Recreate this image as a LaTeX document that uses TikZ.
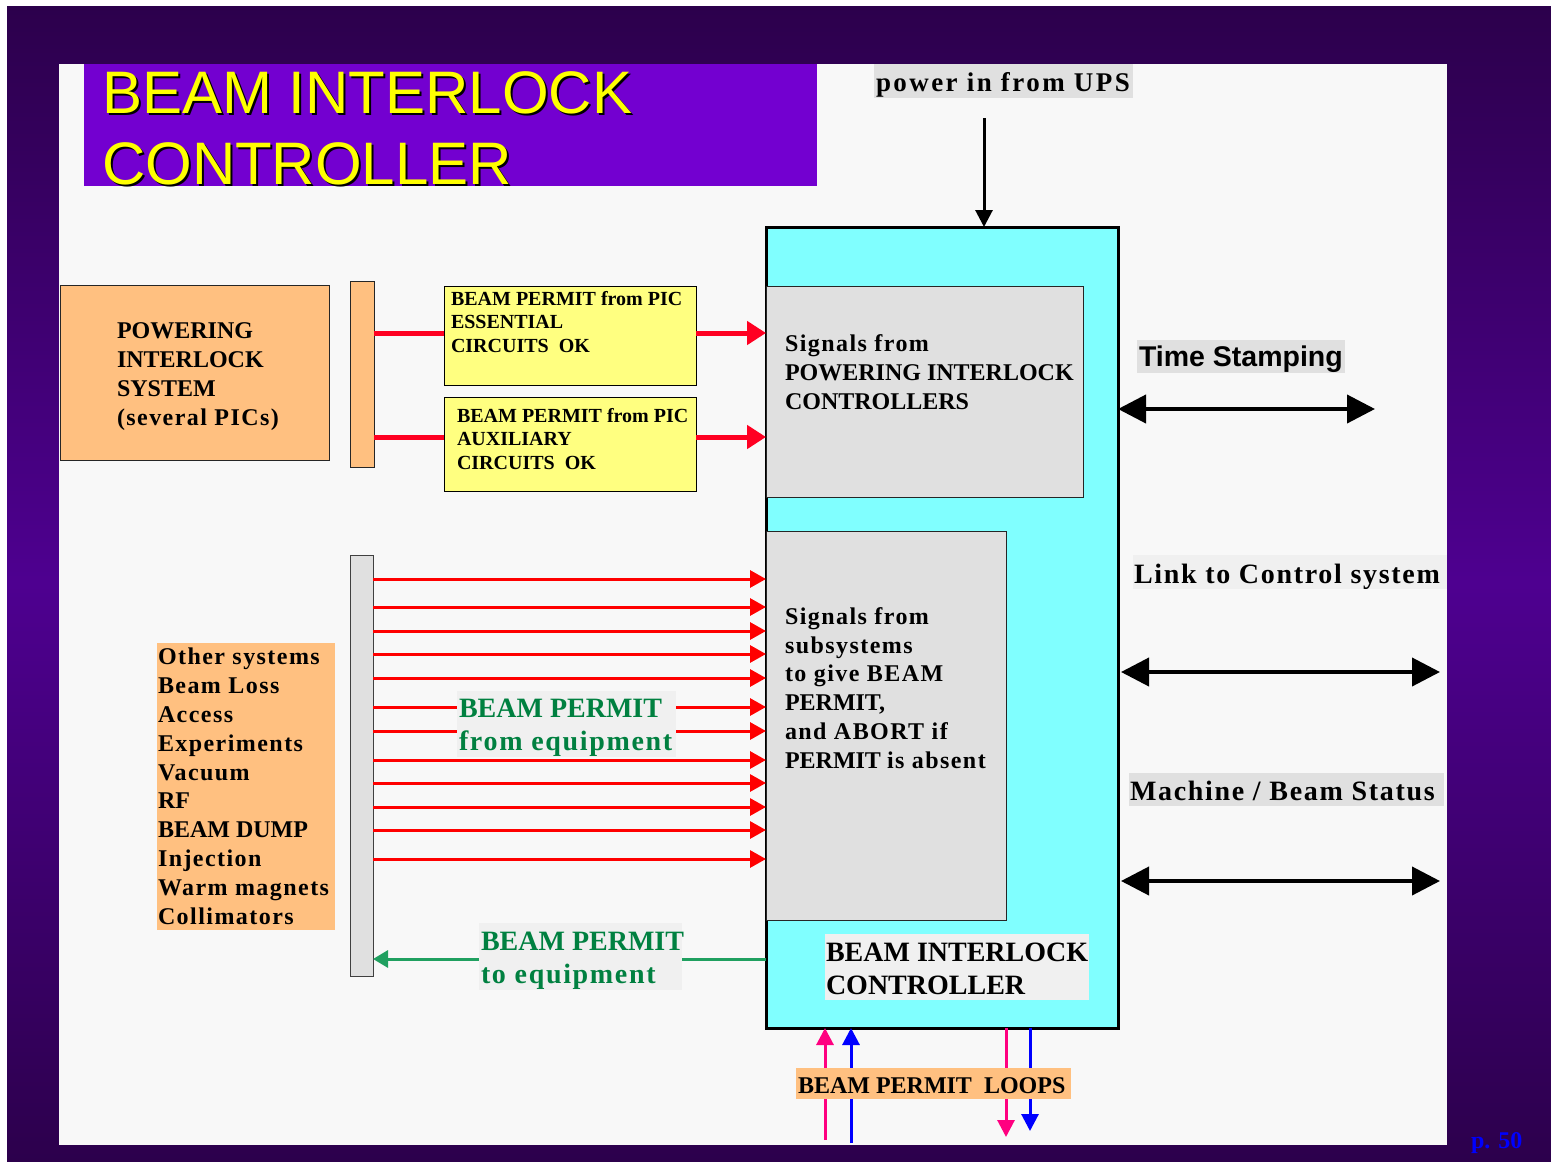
\documentclass[tikz,border=0pt]{standalone}
\usepackage{fontspec}
\setmainfont{Liberation Serif}
\newfontfamily\arialfont{Liberation Sans}
\usetikzlibrary{arrows.meta}
\definecolor{bgdark}{HTML}{2C004C}
\definecolor{bgmid}{HTML}{4E0090}
\definecolor{pane}{HTML}{F8F8F8}
\definecolor{titlebg}{HTML}{7300D0}
\definecolor{titletext}{HTML}{FFFF00}
\definecolor{cyanbox}{HTML}{80FFFF}
\definecolor{grayfill}{HTML}{E0E0E0}
\definecolor{lightfill}{HTML}{F0F0F0}
\definecolor{orangefill}{HTML}{FFC080}
\definecolor{yellowfill}{HTML}{FFFF80}
\definecolor{redline}{HTML}{FF0000}
\definecolor{redthickc}{HTML}{FF0022}
\definecolor{greentext}{HTML}{008040}
\definecolor{greenline}{HTML}{20A060}
\definecolor{pinkline}{HTML}{FF0080}
\definecolor{blueline}{HTML}{0000FF}
\newcommand\lsp[1]{{\addfontfeature{LetterSpace=6}#1}}
\tikzset{
  box/.style={anchor=north west, inner sep=0pt, outer sep=0pt},
  txt/.style={anchor=base west, inner sep=0pt, outer sep=0pt, align=left},
  fbody/.style={font=\fontsize{24}{28.7}\selectfont\bfseries},
  fsmall/.style={font=\fontsize{20}{23.5}\selectfont\bfseries},
  fbig/.style={font=\fontsize{28}{32.5}\selectfont\bfseries},
  redthick/.style={draw=redthickc, line width=5pt, -{Triangle[length=19pt,width=23pt]}},
  redplain/.style={draw=redthickc, line width=5pt},
  redthin/.style={draw=redline, line width=3pt, -{Triangle[length=16pt,width=17pt]}},
  blackarrow/.style={draw=black, line width=3pt, -{Triangle[length=17pt,width=17pt]}},
  dblarrow/.style={draw=black, line width=4pt, {Triangle[length=28pt,width=28pt]}-{Triangle[length=28pt,width=28pt]}},
  looparrow/.style={line width=3pt, -{Triangle[length=17pt,width=17pt]}},
}
\begin{document}
\begin{tikzpicture}[x=1pt,y=-1pt]
\useasboundingbox (0,0) rectangle (1551,1162);
\fill[white] (0,0) rectangle (1551,1162);
\shade[top color=bgdark, bottom color=bgdark, middle color=bgmid] (7,6) rectangle (1551,1162);

% content pane
\node[box, fill=pane, minimum width=1388, minimum height=1081] (pane) at (59,64) {};

% title (anchor = baseline of last line)
\node[box, fill=titlebg, minimum width=733, minimum height=122] (titlebox) at (84,64) {};
\node[txt, font=\arialfont\fontsize{60}{71}\selectfont, text=black] (titleshadow) at (104,186) {BEAM INTERLOCK\\CONTROLLER};
\node[txt, font=\arialfont\fontsize{60}{71}\selectfont, text=titletext] (title) at (102,184) {BEAM INTERLOCK\\CONTROLLER};

% power in from UPS
\node[box, fill=grayfill, minimum width=259, minimum height=34] (upsbg) at (874,64) {};
\node[txt, font=\fontsize{27}{30}\selectfont\bfseries\addfontfeature{LetterSpace=9}] (upstext) at (876,91) {power in from UPS};
\coordinate (ups) at (984,118);

% beam interlock controller
\node[box, draw=black, line width=3pt, fill=cyanbox, minimum width=352, minimum height=801] (bic) at (766,227) {};
\node[box, draw=black!85, line width=1pt, fill=grayfill, minimum width=317, minimum height=211] (sigpic) at (766,286) {};
\node[txt, fbody] (sigpictext) at (785,409) {\lsp{Signals from}\\POWERING INTERLOCK\\CONTROLLERS};
\node[box, draw=black!85, line width=1pt, fill=grayfill, minimum width=240, minimum height=389] (sigsub) at (766,531) {};
\node[txt, fbody] (sigsubtext) at (785,768) {\lsp{Signals from}\\\lsp{subsystems}\\\lsp{to give BEAM}\\PERMIT,\\\lsp{and ABORT if}\\PERMIT \lsp{is absent}};
\node[box, fill=lightfill, minimum width=264, minimum height=66] (biclabelbg) at (825,934) {};
\node[txt, fbig] (biclabel) at (826,994) {BEAM INTERLOCK\\CONTROLLER};

% powering interlock system
\node[box, draw=black!85, line width=1pt, fill=orangefill, minimum width=269, minimum height=175] (pis) at (60,285) {};
\node[txt, fbody] (pistext) at (117,425) {POWERING\\INTERLOCK\\SYSTEM\\\lsp{(several PICs)}};
\node[box, draw=black!85, line width=1pt, fill=orangefill, minimum width=24, minimum height=186] (obar) at (350,281) {};

% yellow boxes
\node[box, draw=black, line width=1pt, fill=yellowfill, minimum width=252, minimum height=99] (ye) at (444,286) {};
\node[txt, fsmall] (yetext) at (451,352) {BEAM PERMIT from PIC\\ESSENTIAL\\CIRCUITS \ OK};
\node[box, draw=black, line width=1pt, fill=yellowfill, minimum width=252, minimum height=94] (ya) at (444,397) {};
\node[txt, fsmall] (yatext) at (457,469) {BEAM PERMIT from PIC\\AUXILIARY\\CIRCUITS \ OK};

\coordinate (r1) at (0,333);
\coordinate (r2) at (0,437);
\draw[redplain] (obar.east |- r1) -- (ye.west |- r1);
\draw[redplain] (obar.east |- r2) -- (ya.west |- r2);
\draw[redthick] (ye.east |- r1) -- (sigpic.west |- r1);
\draw[redthick] (ya.east |- r2) -- (sigpic.west |- r2);

% equipment bar and signals
\node[box, draw=black!75, line width=1pt, fill=grayfill, minimum width=23, minimum height=421] (gbar) at (350,555) {};
\foreach \yy [count=\i] in {579,607,631,654,678,707,731,760,783,807,830,859}{
  \coordinate (ra\i) at (0,\yy);
  \draw[redthin] (gbar.east |- ra\i) -- (sigsub.west |- ra\i);
}
\node[box, fill=lightfill, minimum width=219, minimum height=66] (fromeqbg) at (457,691) {};
\node[txt, fbig, text=greentext] (fromeq) at (459,750) {BEAM PERMIT\\\lsp{from equipment}};

\coordinate (g1) at (0,959);
\draw[draw=greenline, line width=3pt, -{Triangle[length=15pt,width=17pt]}] (bic.west |- g1) -- (gbar.east |- g1);
\node[box, fill=lightfill, minimum width=203, minimum height=67] (toeqbg) at (479,923) {};
\node[txt, fbig, text=greentext] (toeq) at (481,983) {BEAM PERMIT\\\lsp{to equipment}};

% other systems list
\node[box, fill=orangefill, minimum width=178, minimum height=287] (othersbg) at (157,643) {};
\node[txt, font=\fontsize{24}{28.8}\selectfont\bfseries] (others) at (158,924)
  {\lsp{Other systems}\\\lsp{Beam Loss}\\\lsp{Access}\\\lsp{Experiments}\\\lsp{Vacuum}\\RF\\BEAM DUMP\\\lsp{Injection}\\\lsp{Warm magnets}\\\lsp{Collimators}};

% UPS arrow
\draw[blackarrow] (ups) -- (bic.north -| ups);

% right side links
\node[box, fill=grayfill, minimum width=208, minimum height=33] (tsbg) at (1137,340) {};
\node[txt, font=\arialfont\fontsize{28.5}{32}\selectfont\bfseries] (ts) at (1139,366) {Time Stamping};
\coordinate (ts1) at (1375,409);
\draw[dblarrow] (bic.east |- ts1) -- (ts1);

\node[box, fill=lightfill, minimum width=314, minimum height=34] (lcbg) at (1133,555) {};
\node[txt, fbig] (lc) at (1134,583) {\lsp{Link to Control system}};
\coordinate (lc0) at (1121,672);
\coordinate (lc1) at (1440,672);
\draw[dblarrow] (lc0) -- (lc1);

\node[box, fill=grayfill, minimum width=315, minimum height=33] (msbg) at (1129,773) {};
\node[txt, fbig] (ms) at (1130,800) {\lsp{Machine / Beam Status}};
\coordinate (ms0) at (1121,881);
\coordinate (ms1) at (1440,881);
\draw[dblarrow] (ms0) -- (ms1);

% beam permit loops
\coordinate (lp1) at (825,1140);
\coordinate (lp2) at (851,1143);
\coordinate (lp3) at (1006,1137);
\coordinate (lp4) at (1030,1131);
\draw[looparrow, draw=pinkline] (lp1) -- (bic.south -| lp1);
\draw[looparrow, draw=blueline] (lp2) -- (bic.south -| lp2);
\draw[looparrow, draw=pinkline] (bic.south -| lp3) -- (lp3);
\draw[looparrow, draw=blueline] (bic.south -| lp4) -- (lp4);
\node[box, fill=orangefill, minimum width=275, minimum height=31] (loopsbg) at (796,1068) {};
\node[txt, fbody] (loops) at (798,1093) {BEAM PERMIT \ LOOPS};

% page number
\node[txt, fbody, text=blueline] (page) at (1471,1148) {p. 50};
\end{tikzpicture}
\end{document}
